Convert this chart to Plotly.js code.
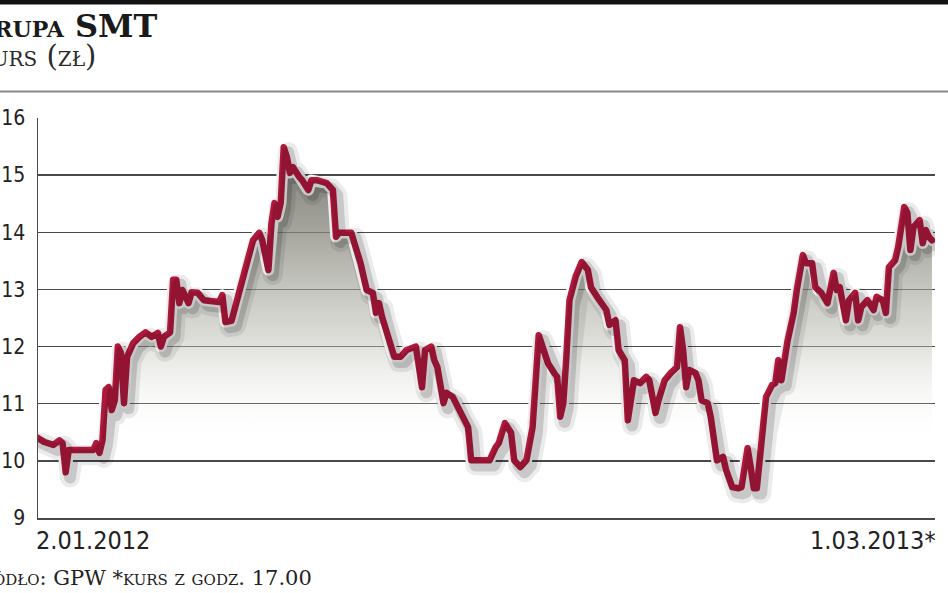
<!DOCTYPE html>
<html>
<head>
<meta charset="utf-8">
<script src="https://cdn.plot.ly/plotly-3.0.1.min.js"></script>
<style>
  html, body { margin: 0; padding: 0; background: #fff; }
  #chart { width: 948px; height: 593px; }
  .scatterlayer path.js-line { stroke-linejoin: round; stroke-linecap: round; }
</style>
</head>
<body>
<div id="chart"></div>
<script>
// Trading session index (0 = 2.01.2012, 291 = 1.03.2013)
const sessions = [0,2,5,7,8,9,10,13,15,18,19,20,21,22,23,24,25,26,27,28,29,31,33,35,37,39,40,41,43,44,45,46,47,49,50,52,54,57,59,60,61,63,66,68,70,72,73,75,76,77,78,79,80,81,82,83,85,86,88,89,91,94,96,97,98,99,102,103,105,107,109,110,111,112,115,116,118,120,123,125,126,128,129,130,132,133,135,137,140,141,147,149,150,152,154,155,157,159,161,163,164,166,168,169,170,171,172,173,175,177,179,180,182,184,185,186,188,189,191,192,194,196,198,199,201,202,204,206,208,209,210,211,212,214,215,216,218,219,220,221,223,224,226,228,229,231,232,233,234,236,237,239,240,241,242,244,246,247,249,250,252,253,254,255,257,258,259,260,261,263,264,266,267,268,270,272,273,275,276,277,279,280,282,283,284,285,287,288,289,290,291];
// Share price (zł)
const prices = [10.40,10.33,10.28,10.36,10.31,9.80,10.19,10.19,10.19,10.19,10.31,10.14,10.36,11.24,11.29,10.89,11.06,12.00,11.89,11.01,11.82,12.06,12.17,12.25,12.17,12.24,12.00,12.17,12.25,13.17,13.17,12.76,12.99,12.76,12.95,12.94,12.81,12.78,12.78,12.90,12.43,12.45,13.11,13.46,13.86,13.99,13.86,13.34,14.16,14.51,14.27,14.51,15.49,15.32,15.04,15.14,14.97,14.91,14.74,14.91,14.91,14.86,14.74,13.92,13.99,13.99,13.99,13.81,13.46,12.99,12.94,12.59,12.76,12.52,11.94,11.82,11.82,11.94,12.00,11.29,11.94,12.00,11.76,11.64,11.01,11.19,11.12,10.89,10.59,10.01,10.01,10.24,10.31,10.66,10.49,10.01,9.89,10.01,10.59,12.20,12.06,11.71,11.54,11.47,10.77,11.01,11.82,12.81,13.22,13.48,13.34,13.04,12.87,12.69,12.64,12.38,12.46,11.94,11.76,10.71,11.41,11.36,11.47,11.41,10.84,11.06,11.41,11.54,11.64,12.34,11.94,11.29,11.59,11.54,11.41,11.06,11.01,10.77,10.36,10.01,10.07,9.84,9.54,9.52,9.54,10.22,9.89,9.52,9.52,10.59,11.12,11.33,11.36,11.76,11.41,12.10,12.59,12.99,13.60,13.46,13.46,13.04,12.99,12.94,12.76,13.11,13.29,12.99,13.04,12.46,12.81,12.94,12.46,12.69,12.81,12.64,12.87,12.81,12.59,13.39,13.51,13.74,14.44,14.34,13.69,14.09,14.21,13.81,14.04,13.92,13.86];

const yTicks = [9,10,11,12,13,14,15,16];
const startLabel = '2.01.2012';
const endLabel = '1.03.2013*';
const titleText = 'Grupa SMT';
const subtitleText = 'Kurs (zł)';
const sourceText = 'Źródło: GPW *kurs z godz. 17.00';

const RED = '#bc1b40';
const GRID = '#4a4a4a';
const numFont = 'DejaVu Sans Condensed, DejaVu Sans, sans-serif';
const serif = 'DejaVu Serif, Liberation Serif, serif';

const traces = [
  { x: sessions, y: prices, type: 'scatter', mode: 'none', fill: 'tozeroy',
    fillgradient: { type: 'vertical', start: 10.3, stop: 15.6,
      colorscale: [[0, 'rgba(255,255,255,0)'], [0.35, 'rgba(185,185,176,0.5)'], [0.7, 'rgba(135,135,125,0.75)'], [1, 'rgba(105,105,95,0.9)']] },
    hoverinfo: 'skip', showlegend: false },
  { x: sessions, y: prices, type: 'scatter', mode: 'lines', xaxis: 'x2', yaxis: 'y2',
    line: { color: 'rgba(0,0,0,0.08)', width: 20 }, hoverinfo: 'skip', showlegend: false },
  { x: sessions, y: prices, type: 'scatter', mode: 'lines', xaxis: 'x2', yaxis: 'y2',
    line: { color: 'rgba(0,0,0,0.15)', width: 12 }, hoverinfo: 'skip', showlegend: false },
  { x: sessions, y: prices, type: 'scatter', mode: 'lines',
    line: { color: '#ffffff', width: 11.5 }, hoverinfo: 'skip', showlegend: false },
  { x: sessions, y: prices, type: 'scatter', mode: 'lines',
    line: { color: RED, width: 6.5 }, showlegend: false }
];

const layout = {
  width: 948, height: 593,
  margin: { l: 38, r: 13, t: 118, b: 75 },
  paper_bgcolor: '#ffffff', plot_bgcolor: '#ffffff',
  showlegend: false,
  xaxis: { range: [0, 292], showgrid: false, zeroline: false, showticklabels: false, ticks: '',
           showline: true, linecolor: GRID, linewidth: 1.5, fixedrange: true },
  yaxis: { range: [9, 16], tickvals: yTicks, ticktext: yTicks.map(String), showgrid: true,
           gridcolor: GRID, gridwidth: 1.5, zeroline: false, ticks: '', showline: true,
           linecolor: GRID, linewidth: 1.5, ticklabelstandoff: 7,
           tickfont: { family: numFont, size: 21, color: '#222' }, fixedrange: true },
  xaxis2: { overlaying: 'x', range: [-1.4, 290.6], visible: false, fixedrange: true },
  yaxis2: { overlaying: 'y', range: [9.09, 16.09], visible: false, fixedrange: true },
  shapes: [
    { type: 'rect', xref: 'paper', yref: 'paper', x0: -0.05, x1: 1.02, y0: 1.284, y1: 1.31,
      fillcolor: '#111', line: { width: 0 } },
    { type: 'line', xref: 'paper', yref: 'paper', x0: -0.05, x1: 1.02, y0: 1.066, y1: 1.066,
      line: { color: '#8a8a8a', width: 2 } }
  ],
  annotations: [
    { text: titleText, xref: 'paper', yref: 'paper', x: 0, y: 1.23, xanchor: 'left', yanchor: 'middle',
      xshift: -73, showarrow: false,
      font: { family: serif, size: 32, color: '#1a1a1a', weight: 'bold', variant: 'small-caps' } },
    { text: subtitleText, xref: 'paper', yref: 'paper', x: 0, y: 1.155, xanchor: 'left', yanchor: 'middle',
      xshift: -70, showarrow: false,
      font: { family: serif, size: 29, color: '#2a2a2a', variant: 'small-caps' } },
    { text: startLabel, xref: 'paper', yref: 'paper', x: 0, y: -0.055, xanchor: 'left', yanchor: 'middle',
      xshift: -4, showarrow: false,
      font: { family: numFont, size: 25, color: '#222' } },
    { text: endLabel, xref: 'paper', yref: 'paper', x: 1, y: -0.055, xanchor: 'right', yanchor: 'middle',
      xshift: 3, showarrow: false,
      font: { family: numFont, size: 25, color: '#222' } },
    { text: sourceText, xref: 'paper', yref: 'paper', x: 0, y: -0.15, xanchor: 'left', yanchor: 'middle',
      xshift: -73, showarrow: false,
      font: { family: serif, size: 21, color: '#222', variant: 'small-caps' } }
  ]
};

Plotly.newPlot('chart', traces, layout, { staticPlot: true, displayModeBar: false });
</script>
</body>
</html>
